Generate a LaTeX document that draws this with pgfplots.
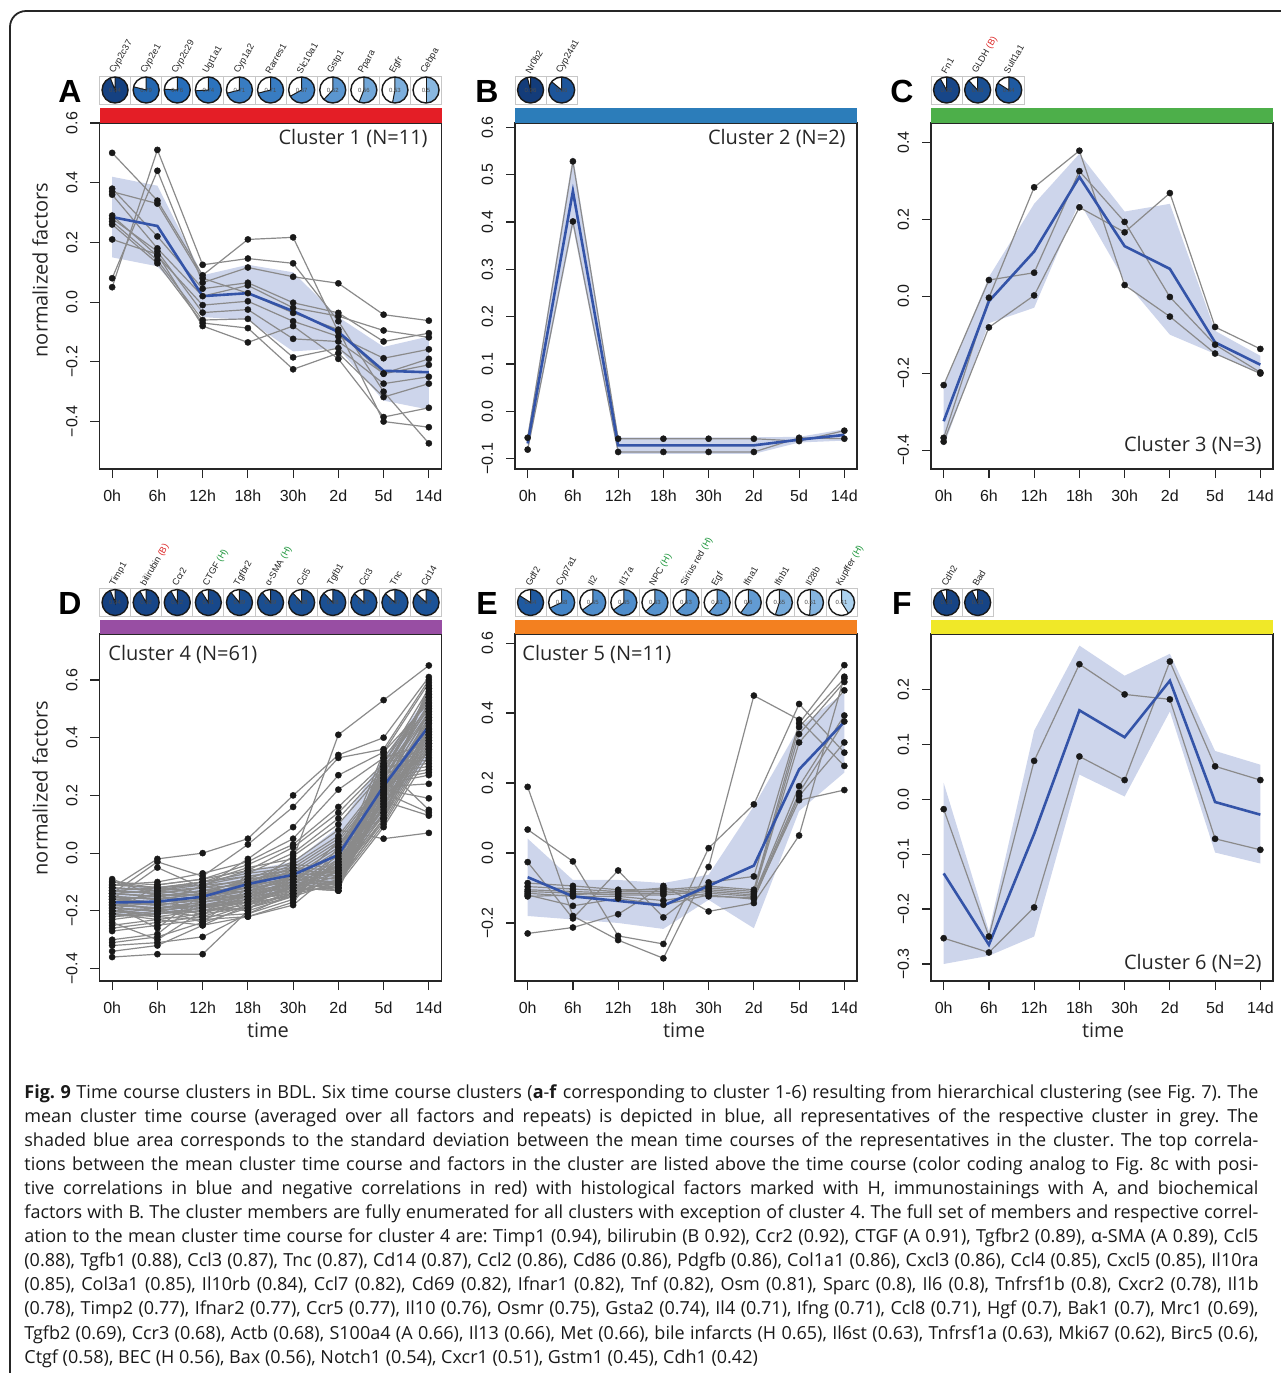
\documentclass[border=0pt]{standalone}
\usepackage{pgfplots}
\pgfplotsset{compat=1.18}
\usepackage{fontspec}
\setmainfont{Open Sans}
\newfontfamily\arial{Liberation Sans}
\definecolor{bandc}{RGB}{200,208,233}
\definecolor{mblue}{RGB}{52,84,168}
\definecolor{glc}{RGB}{138,138,138}
\definecolor{dotc}{RGB}{25,25,25}
\definecolor{cred}{RGB}{228,30,38}
\definecolor{cblue}{RGB}{44,125,186}
\definecolor{cgreen}{RGB}{77,175,74}
\definecolor{cpurple}{RGB}{152,78,163}
\definecolor{corange}{RGB}{243,128,32}
\definecolor{cyellow}{RGB}{240,232,40}
\definecolor{pdark}{RGB}{15,50,110}
\definecolor{pmid}{RGB}{40,112,188}
\definecolor{plight}{RGB}{175,212,240}
\definecolor{labred}{RGB}{220,40,40}
\definecolor{labgreen}{RGB}{30,150,60}

\pgfplotsset{
 panel/.style={scale only axis, width=171pt, xmin=-0.28, xmax=7.28,
   axis line style={line width=0.6pt, draw=black!85},
   tick align=outside, tick pos=left, major tick length=4.5pt,
   tick style={line width=0.6pt, black!85},
   xtick={0,...,7}, xticklabels={0h,6h,12h,18h,30h,2d,5d,14d},
   tick label style={font=\arial\fontsize{8}{9}\selectfont, text=black!90},
   yticklabel style={rotate=90, anchor=south},
   xticklabel shift=2.5pt, yticklabel shift=3pt,
   anchor=north west},
 gline/.style={glc, line width=0.6pt, mark=*, mark size=1.55pt, mark options={fill=dotc, draw=dotc, line width=0.2pt}},
 mline/.style={mblue, line width=1.3pt, mark=none},
 bandst/.style={fill=bandc, draw=none, fill opacity=0.9},
}
\newcommand\gl[8]{\addplot[gline] coordinates {(0,#1)(1,#2)(2,#3)(3,#4)(4,#5)(5,#6)(6,#7)(7,#8)};}
\newcommand\ml[8]{\addplot[mline] coordinates {(0,#1)(1,#2)(2,#3)(3,#4)(4,#5)(5,#6)(6,#7)(7,#8)};}

\newcommand\pie[5]{%
 \pgfmathtruncatemacro\pa{#3>0.75 ? (#3-0.75)/0.25*100 : max(0,(#3-0.4)/0.35*100)}%
 \ifdim #3pt>0.75pt\colorlet{pc}{pdark!\pa!pmid}\else\colorlet{pc}{pmid!\pa!plight}\fi
 \draw[black!22, line width=0.5pt] ({#1-15.55},{#2-14}) rectangle ({#1+15.55},{#2+14});
 \begin{scope}[shift={(#1,#2)}]
  \fill[white] (0,0) circle[radius=6.5pt];
  \fill[pc] (0,0) -- (90:6.5pt) arc[start angle=90, end angle={90-360*#3}, radius=6.5pt] -- cycle;
  \draw[black!90, line width=0.5pt] (90:6.5pt) -- (0,0) -- ({90-360*#3}:6.5pt);
  \draw[black!90, line width=0.7pt] (0,0) circle[radius=6.5pt];
  \node[font=\arial\fontsize{3}{3}\selectfont, text=black!70, inner sep=0] at (0,0) {#4};
 \end{scope}
 \node[rotate=60, anchor=west, inner sep=0, font=\arial\fontsize{4.6}{5}\selectfont, text=black!85] at ({#1-3},{#2-17}) {#5};
}

\begin{document}
\begin{tikzpicture}[x=0.5pt,y=-0.5pt]
\useasboundingbox (0,0) rectangle (1281,1373);
\draw[black!85, line width=0.9pt, rounded corners=8pt] (10,1500) -- (10,11) -- (1400,11);

% ---------- Panel A ----------
\begin{axis}[panel, at={(49.75pt,-61.5pt)}, height=173pt, ymin=-0.559, ymax=0.6,
  ytick={-0.4,-0.2,0,0.2,0.4,0.6}, yticklabels={−0.4,−0.2,0.0,0.2,0.4,0.6}]
\addplot[bandst] coordinates {(0,0.42)(1,0.39)(2,0.09)(3,0.125)(4,0.10)(5,-0.05)(6,-0.15)(7,-0.115)
  (7,-0.36)(6,-0.33)(5,-0.155)(4,-0.165)(3,-0.06)(2,-0.05)(1,0.12)(0,0.15)} -- cycle;
\gl{0.50}{0.34}{0.09}{0.21}{0.217}{-0.10}{-0.24}{-0.21}
\gl{0.05}{0.51}{0.125}{0.146}{0.13}{-0.064}{-0.30}{-0.473}
\gl{0.08}{0.44}{0.065}{0.116}{0.085}{0.063}{-0.042}{-0.062}
\gl{0.38}{0.22}{0.045}{0.065}{-0.002}{-0.036}{-0.132}{-0.104}
\gl{0.36}{0.18}{0.02}{0.056}{-0.019}{-0.047}{-0.095}{-0.118}
\gl{0.29}{0.155}{-0.01}{0.003}{-0.064}{-0.115}{-0.188}{-0.158}
\gl{0.28}{0.17}{-0.035}{-0.025}{-0.123}{-0.132}{-0.239}{-0.19}
\gl{0.27}{0.14}{-0.06}{-0.056}{-0.185}{-0.154}{-0.273}{-0.25}
\gl{0.26}{0.13}{-0.07}{-0.087}{-0.225}{-0.171}{-0.318}{-0.273}
\gl{0.21}{0.16}{-0.08}{-0.135}{-0.08}{-0.19}{-0.385}{-0.354}
\gl{0.37}{0.33}{0.08}{0.03}{-0.036}{-0.092}{-0.40}{-0.419}
\ml{0.285}{0.255}{0.02}{0.03}{-0.03}{-0.10}{-0.23}{-0.235}
\end{axis}

% ---------- Panel B ----------
\begin{axis}[panel, at={(257.5pt,-61.5pt)}, height=173pt, ymin=-0.122, ymax=0.609,
  ytick={-0.1,0,0.1,0.2,0.3,0.4,0.5,0.6}, yticklabels={−0.1,0.0,0.1,0.2,0.3,0.4,0.5,0.6}]
\addplot[bandst] coordinates {(0,-0.05)(1,0.54)(2,-0.055)(3,-0.055)(4,-0.055)(5,-0.055)(6,-0.054)(7,-0.038)
  (7,-0.062)(6,-0.066)(5,-0.09)(4,-0.09)(3,-0.09)(2,-0.09)(1,0.39)(0,-0.085)} -- cycle;
\gl{-0.056}{0.528}{-0.058}{-0.058}{-0.058}{-0.058}{-0.063}{-0.041}
\gl{-0.081}{0.401}{-0.086}{-0.086}{-0.086}{-0.086}{-0.056}{-0.058}
\ml{-0.068}{0.465}{-0.072}{-0.072}{-0.072}{-0.072}{-0.06}{-0.05}
\end{axis}

% ---------- Panel C ----------
\begin{axis}[panel, at={(465.5pt,-61.5pt)}, height=173pt, ymin=-0.449, ymax=0.45,
  ytick={-0.4,-0.2,0,0.2,0.4}, yticklabels={−0.4,−0.2,0.0,0.2,0.4}]
\addplot[bandst] coordinates {(0,-0.235)(1,0.05)(2,0.24)(3,0.37)(4,0.22)(5,0.24)(6,-0.09)(7,-0.155)
  (7,-0.20)(6,-0.15)(5,-0.10)(4,0.04)(3,0.245)(2,-0.03)(1,-0.07)(0,-0.39)} -- cycle;
\gl{-0.368}{-0.004}{0.283}{0.378}{0.029}{-0.053}{-0.149}{-0.201}
\gl{-0.231}{0.042}{0.061}{0.325}{0.193}{-0.002}{-0.126}{-0.198}
\gl{-0.378}{-0.081}{0.002}{0.231}{0.166}{0.268}{-0.08}{-0.137}
\ml{-0.325}{-0.013}{0.116}{0.31}{0.13}{0.071}{-0.12}{-0.178}
\end{axis}

% ---------- Panel D ----------
\begin{axis}[panel, at={(49.75pt,-317pt)}, height=173.5pt, ymin=-0.443, ymax=0.759,
  ytick={-0.4,-0.2,0,0.2,0.4,0.6}, yticklabels={−0.4,−0.2,0.0,0.2,0.4,0.6}]
\addplot[bandst] coordinates {(0,-0.12)(1,-0.115)(2,-0.105)(3,-0.06)(4,-0.03)(5,0.09)(6,0.33)(7,0.55)
  (7,0.33)(6,0.15)(5,-0.10)(4,-0.12)(3,-0.16)(2,-0.195)(1,-0.215)(0,-0.22)} -- cycle;
\gl{-0.10}{-0.12}{-0.10}{-0.05}{-0.02}{0.41}{0.53}{0.65}
\gl{-0.12}{-0.02}{0.00}{0.05}{0.20}{0.34}{0.40}{0.61}
\gl{-0.14}{-0.03}{-0.08}{0.03}{0.16}{0.33}{0.36}{0.60}
\gl{-0.16}{-0.05}{-0.12}{-0.02}{0.09}{0.27}{0.35}{0.59}
\gl{-0.11}{-0.10}{-0.07}{-0.03}{0.05}{0.22}{0.33}{0.38}
\gl{-0.21}{-0.11}{-0.09}{-0.04}{0.03}{0.16}{0.31}{0.57}
\gl{-0.15}{-0.18}{-0.11}{-0.06}{0.02}{0.14}{0.30}{0.15}
\gl{-0.17}{-0.14}{-0.22}{-0.07}{0.00}{0.12}{0.29}{0.55}
\gl{-0.09}{-0.15}{-0.13}{-0.12}{-0.01}{0.10}{0.28}{0.54}
\gl{-0.18}{-0.26}{-0.14}{-0.09}{-0.03}{0.08}{0.05}{0.07}
\gl{-0.19}{-0.17}{-0.15}{-0.10}{-0.04}{0.06}{0.26}{0.52}
\gl{-0.30}{-0.28}{-0.16}{-0.11}{-0.05}{0.05}{0.25}{0.51}
\gl{-0.21}{-0.19}{-0.24}{-0.12}{-0.06}{0.04}{0.12}{0.50}
\gl{-0.22}{-0.20}{-0.18}{-0.20}{-0.07}{0.03}{0.23}{0.49}
\gl{-0.23}{-0.21}{-0.19}{-0.14}{-0.08}{0.02}{0.22}{0.35}
\gl{-0.24}{-0.30}{-0.20}{-0.15}{-0.09}{0.01}{0.21}{0.47}
\gl{-0.25}{-0.23}{-0.21}{-0.16}{-0.10}{0.00}{0.20}{0.46}
\gl{-0.26}{-0.24}{-0.22}{-0.17}{-0.11}{-0.01}{0.19}{0.45}
\gl{-0.27}{-0.25}{-0.23}{-0.18}{-0.12}{-0.02}{0.18}{0.13}
\gl{-0.31}{-0.29}{-0.24}{-0.19}{-0.13}{-0.03}{0.17}{0.43}
\gl{-0.32}{-0.31}{-0.29}{-0.21}{-0.14}{-0.04}{0.16}{0.42}
\gl{-0.34}{-0.32}{-0.25}{-0.22}{-0.18}{-0.05}{0.15}{0.41}
\gl{-0.36}{-0.35}{-0.35}{-0.20}{-0.15}{-0.06}{0.14}{0.40}
\gl{-0.12}{-0.13}{-0.10}{-0.08}{-0.06}{-0.07}{0.13}{0.39}
\gl{-0.13}{-0.14}{-0.12}{-0.09}{-0.07}{-0.08}{0.12}{0.38}
\gl{-0.14}{-0.15}{-0.13}{-0.10}{-0.08}{-0.09}{0.11}{0.37}
\gl{-0.15}{-0.16}{-0.14}{-0.11}{-0.09}{-0.10}{0.10}{0.36}
\gl{-0.16}{-0.17}{-0.15}{-0.12}{-0.10}{-0.11}{0.09}{0.34}
\gl{-0.17}{-0.18}{-0.16}{-0.13}{-0.11}{-0.12}{0.34}{0.33}
\gl{-0.18}{-0.19}{-0.17}{-0.14}{-0.12}{-0.13}{0.32}{0.32}
\gl{-0.19}{-0.20}{-0.18}{-0.15}{-0.13}{-0.10}{0.30}{0.31}
\gl{-0.20}{-0.21}{-0.19}{-0.16}{-0.14}{-0.09}{0.28}{0.30}
\gl{-0.13}{-0.12}{-0.11}{-0.10}{-0.05}{-0.08}{0.26}{0.29}
\gl{-0.14}{-0.13}{-0.12}{-0.11}{-0.06}{-0.07}{0.25}{0.28}
\gl{-0.16}{-0.15}{-0.14}{-0.13}{-0.08}{-0.06}{0.24}{0.27}
\gl{-0.18}{-0.17}{-0.16}{-0.15}{-0.10}{-0.05}{0.23}{0.24}
\gl{-0.20}{-0.19}{-0.18}{-0.17}{-0.12}{-0.04}{0.22}{0.19}
\gl{-0.22}{-0.21}{-0.20}{-0.19}{-0.14}{-0.03}{0.21}{0.14}
\gl{-0.11}{-0.12}{-0.14}{-0.12}{-0.08}{-0.11}{0.20}{0.58}
\gl{-0.12}{-0.13}{-0.15}{-0.13}{-0.09}{-0.12}{0.19}{0.57}
\gl{-0.13}{-0.14}{-0.16}{-0.14}{-0.10}{-0.13}{0.27}{0.56}
\gl{-0.14}{-0.15}{-0.17}{-0.15}{-0.11}{-0.10}{0.29}{0.55}
\gl{-0.15}{-0.16}{-0.18}{-0.16}{-0.12}{-0.08}{0.31}{0.54}
\gl{-0.16}{-0.17}{-0.19}{-0.17}{-0.13}{-0.06}{0.33}{0.53}
\gl{-0.17}{-0.18}{-0.20}{-0.18}{-0.14}{-0.04}{0.35}{0.52}
\gl{-0.18}{-0.19}{-0.21}{-0.19}{-0.15}{-0.02}{0.30}{0.51}
\gl{-0.19}{-0.20}{-0.22}{-0.21}{-0.16}{0.00}{0.28}{0.50}
\gl{-0.20}{-0.22}{-0.23}{-0.22}{-0.17}{0.02}{0.26}{0.49}
\gl{-0.21}{-0.23}{-0.25}{-0.18}{-0.11}{0.04}{0.24}{0.48}
\gl{-0.10}{-0.11}{-0.09}{-0.06}{-0.04}{-0.05}{0.22}{0.47}
\gl{-0.11}{-0.12}{-0.10}{-0.07}{-0.05}{-0.06}{0.20}{0.46}
\gl{-0.12}{-0.13}{-0.11}{-0.08}{-0.06}{-0.07}{0.18}{0.45}
\gl{-0.13}{-0.14}{-0.12}{-0.09}{-0.07}{-0.08}{0.16}{0.44}
\gl{-0.14}{-0.15}{-0.13}{-0.10}{-0.08}{-0.09}{0.14}{0.43}
\gl{-0.15}{-0.16}{-0.14}{-0.11}{-0.09}{-0.10}{0.12}{0.42}
\gl{-0.16}{-0.17}{-0.15}{-0.12}{-0.10}{-0.11}{0.27}{0.41}
\gl{-0.17}{-0.18}{-0.16}{-0.13}{-0.11}{-0.12}{0.25}{0.40}
\gl{-0.18}{-0.19}{-0.17}{-0.14}{-0.12}{-0.13}{0.23}{0.39}
\gl{-0.19}{-0.20}{-0.18}{-0.15}{-0.13}{-0.12}{0.21}{0.38}
\gl{-0.20}{-0.21}{-0.19}{-0.16}{-0.14}{-0.11}{0.19}{0.37}
\gl{-0.21}{-0.22}{-0.20}{-0.17}{-0.15}{-0.10}{0.17}{0.36}
\ml{-0.171}{-0.168}{-0.151}{-0.107}{-0.075}{-0.006}{0.232}{0.44}
\end{axis}

% ---------- Panel E ----------
\begin{axis}[panel, at={(257.5pt,-317pt)}, height=173.5pt, ymin=-0.366, ymax=0.626,
  ytick={-0.2,0,0.2,0.4,0.6}, yticklabels={−0.2,0.0,0.2,0.4,0.6}]
\addplot[bandst] coordinates {(0,0.041)(1,-0.077)(2,-0.077)(3,-0.086)(4,-0.062)(5,0.134)(6,0.36)(7,0.459)
  (7,0.23)(6,0.12)(5,-0.215)(4,-0.134)(3,-0.217)(2,-0.20)(1,-0.19)(0,-0.18)} -- cycle;
\gl{0.189}{-0.180}{-0.249}{-0.301}{-0.040}{0.450}{0.381}{0.249}
\gl{0.067}{-0.024}{-0.237}{-0.260}{0.014}{0.139}{0.426}{0.287}
\gl{-0.026}{-0.187}{-0.050}{-0.184}{-0.084}{-0.067}{0.371}{0.537}
\gl{-0.230}{-0.213}{-0.175}{-0.094}{-0.167}{-0.143}{0.050}{0.504}
\gl{-0.086}{-0.094}{-0.105}{-0.105}{-0.095}{-0.105}{0.360}{0.499}
\gl{-0.096}{-0.103}{-0.110}{-0.110}{-0.100}{-0.110}{0.340}{0.489}
\gl{-0.105}{-0.110}{-0.115}{-0.115}{-0.105}{-0.115}{0.316}{0.465}
\gl{-0.110}{-0.115}{-0.120}{-0.120}{-0.110}{-0.120}{0.191}{0.393}
\gl{-0.115}{-0.124}{-0.124}{-0.136}{-0.115}{-0.124}{0.172}{0.376}
\gl{-0.120}{-0.151}{-0.130}{-0.148}{-0.120}{-0.132}{0.163}{0.316}
\gl{-0.124}{-0.120}{-0.110}{-0.100}{-0.124}{-0.128}{0.151}{0.180}
\ml{-0.069}{-0.124}{-0.137}{-0.150}{-0.094}{-0.036}{0.239}{0.375}
\end{axis}

% ---------- Panel F ----------
\begin{axis}[panel, at={(465.5pt,-317pt)}, height=173.5pt, ymin=-0.331, ymax=0.301,
  ytick={-0.3,-0.2,-0.1,0,0.1,0.2}, yticklabels={−0.3,−0.2,−0.1,0.0,0.1,0.2}]
\addplot[bandst] coordinates {(0,0.03)(1,-0.24)(2,0.125)(3,0.28)(4,0.225)(5,0.265)(6,0.088)(7,0.063)
  (7,-0.117)(6,-0.097)(5,0.16)(4,0.005)(3,0.045)(2,-0.25)(1,-0.285)(0,-0.30)} -- cycle;
\gl{-0.018}{-0.25}{0.07}{0.246}{0.191}{0.182}{-0.072}{-0.092}
\gl{-0.253}{-0.279}{-0.197}{0.078}{0.035}{0.251}{0.06}{0.035}
\ml{-0.135}{-0.265}{-0.063}{0.162}{0.113}{0.216}{-0.005}{-0.028}
\end{axis}

% ---------- colour bars ----------
\fill[cred] (99.5,108) rectangle (441.5,123);
\fill[cblue] (515,108) rectangle (857,123);
\fill[cgreen] (931,108) rectangle (1273,123);
\fill[cpurple] (99.5,620) rectangle (441.5,634);
\fill[corange] (515,620) rectangle (857,634);
\fill[cyellow] (931,620) rectangle (1273,634);

% ---------- panel letters ----------
\begin{scope}[every node/.style={font=\arial\bfseries\fontsize{16}{18}\selectfont, inner sep=0}]
\node at (70,91) {A}; \node at (487,91) {B}; \node at (902,91) {C};
\node at (70,603) {D}; \node at (487,603) {E}; \node at (902,603) {F};
\end{scope}

% ---------- cluster labels ----------
\begin{scope}[every node/.style={font=\fontsize{10}{12}\selectfont, text=black!85, inner sep=0}]
\node[anchor=east] at (428,138) {Cluster 1 (N=11)};
\node[anchor=east] at (846,138) {Cluster 2 (N=2)};
\node[anchor=east] at (1262,445) {Cluster 3 (N=3)};
\node[anchor=west] at (108,654) {Cluster 4 (N=61)};
\node[anchor=west] at (522,654) {Cluster 5 (N=11)};
\node[anchor=east] at (1262,963) {Cluster 6 (N=2)};
\node[rotate=90] at (40,270) {normalized factors};
\node[rotate=90] at (40,788) {normalized factors};
\node at (268,1030) {time};
\node at (684,1030) {time};
\node at (1103,1030) {time};
\end{scope}

% ---------- pies ----------
\foreach \r/\l [count=\i from 0] in {0.94/Cyp2c37,0.79/Cyp2e1,0.76/Cyp2c29,0.74/Ugt1a1,0.71/Cyp1a2,0.71/Rarres1,0.67/Slc10a1,0.62/Gstp1,0.56/Ppara,0.53/Egfr,0.5/Cebpa}
  {\pie{115.05+31.1*\i}{90}{\r}{\r}{\l}}
\foreach \r/\l [count=\i from 0] in {0.96/Nr0b2,0.86/Cyp24a1}
  {\pie{530.55+31.1*\i}{90}{\r}{\r}{\l}}
\foreach \r/\l [count=\i from 0] in {0.92/Fn1,0.88/{GLDH \textcolor{labred}{(B)}},0.84/Sult1a1}
  {\pie{946.55+31.1*\i}{90}{\r}{\r}{\l}}
\foreach \r/\l [count=\i from 0] in {0.94/Timp1,0.92/{bilirubin \textcolor{labred}{(B)}},0.92/Ccr2,0.91/{CTGF \textcolor{labgreen}{(H)}},0.89/Tgfbr2,0.89/{α-SMA \textcolor{labgreen}{(H)}},0.88/Ccl5,0.88/Tgfb1,0.87/Ccl3,0.87/Tnc,0.87/Cd14}
  {\pie{115.05+31.1*\i}{602.5}{\r}{\r}{\l}}
\foreach \r/\l [count=\i from 0] in {0.84/Gdf2,0.68/Cyp7a1,0.65/Il2,0.65/Il17a,0.63/{NPC \textcolor{labgreen}{(H)}},0.63/{Sirius red \textcolor{labgreen}{(H)}},0.61/Egf,0.6/Ifna1,0.55/Ifnb1,0.51/Il28b,0.41/{Kupffer \textcolor{labgreen}{(H)}}}
  {\pie{530.55+31.1*\i}{602.5}{\r}{\r}{\l}}
\foreach \r/\l [count=\i from 0] in {0.93/Cdh2,0.93/Bad}
  {\pie{946.55+31.1*\i}{602.5}{\r}{\r}{\l}}

% ---------- caption ----------
\node[anchor=base west, inner sep=0, text=black!90] at (24,1098) {\parbox[t]{617pt}{\fontsize{9.0}{12.05}\selectfont\frenchspacing\hyphenpenalty=10000\tolerance=10000\noindent
\textbf{Fig. 9} Time course clusters in BDL. Six time course clusters (\textbf{a}-\textbf{f} corresponding to cluster 1-6) resulting from hierarchical clustering (see Fig.~7). The\linebreak
mean cluster time course (averaged over all factors and repeats) is depicted in blue, all representatives of the respective cluster in grey. The\linebreak
shaded blue area corresponds to the standard deviation between the mean time courses of the representatives in the cluster. The top correla-\linebreak
tions between the mean cluster time course and factors in the cluster are listed above the time course (color coding analog to Fig.~8c with posi-\linebreak
tive correlations in blue and negative correlations in red) with histological factors marked with H, immunostainings with A, and biochemical\linebreak
factors with B. The cluster members are fully enumerated for all clusters with exception of cluster 4. The full set of members and respective correl-\linebreak
ation to the mean cluster time course for cluster 4 are: Timp1 (0.94), bilirubin (B 0.92), Ccr2 (0.92), CTGF (A 0.91), Tgfbr2 (0.89), α-SMA (A 0.89), Ccl5\linebreak
(0.88), Tgfb1 (0.88), Ccl3 (0.87), Tnc (0.87), Cd14 (0.87), Ccl2 (0.86), Cd86 (0.86), Pdgfb (0.86), Col1a1 (0.86), Cxcl3 (0.86), Ccl4 (0.85), Cxcl5 (0.85), Il10ra\linebreak
(0.85), Col3a1 (0.85), Il10rb (0.84), Ccl7 (0.82), Cd69 (0.82), Ifnar1 (0.82), Tnf (0.82), Osm (0.81), Sparc (0.8), Il6 (0.8), Tnfrsf1b (0.8), Cxcr2 (0.78), Il1b\linebreak
(0.78), Timp2 (0.77), Ifnar2 (0.77), Ccr5 (0.77), Il10 (0.76), Osmr (0.75), Gsta2 (0.74), Il4 (0.71), Ifng (0.71), Ccl8 (0.71), Hgf (0.7), Bak1 (0.7), Mrc1 (0.69),\linebreak
Tgfb2 (0.69), Ccr3 (0.68), Actb (0.68), S100a4 (A 0.66), Il13 (0.66), Met (0.66), bile infarcts (H 0.65), Il6st (0.63), Tnfrsf1a (0.63), Mki67 (0.62), Birc5 (0.6),\linebreak
Ctgf (0.58), BEC (H 0.56), Bax (0.56), Notch1 (0.54), Cxcr1 (0.51), Gstm1 (0.45), Cdh1 (0.42)}};
\end{tikzpicture}
\end{document}
